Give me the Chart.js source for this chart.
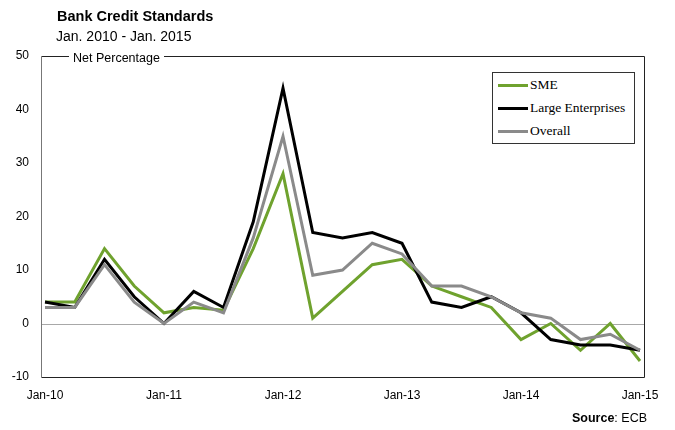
<!DOCTYPE html>
<html lang="en">

<head>
    <meta charset="UTF-8">
    <title>Bank Credit Standards</title>
    <script src="https://cdn.jsdelivr.net/npm/chart.js"></script>
    <style>
        body { margin: 0; background: #fff; }
        #wrap { position: relative; width: 675px; height: 430px; font-family: "Liberation Sans", Arial, sans-serif; }
        #titulo { position: absolute; left: 57px; top: 8px; font-size: 14.5px; font-weight: bold; color: #000; }
        #subtitulo { position: absolute; left: 56px; top: 28px; font-size: 14px; color: #000; }
        #unidad { position: absolute; left: 69px; top: 51px; font-size: 12.5px; background: #fff; padding: 0 4px; }
        #fuente { position: absolute; right: 28px; top: 411px; font-size: 12.5px; }
        #leyenda { position: absolute; left: 492px; top: 72px; width: 141px; height: 70px; border: 1px solid #333;
            font-family: "Liberation Serif", "Times New Roman", serif; font-size: 13.5px; background: #fff; }
        #leyenda div { position: absolute; left: 5px; height: 16px; line-height: 16px; white-space: nowrap; }
        #leyenda span { display: inline-block; width: 30px; height: 3px; vertical-align: middle; margin-right: 2px; }
    </style>
</head>

<body>
    <div id="wrap">
        <canvas id="myChart" width="675" height="430"></canvas>
        <div id="titulo">Bank Credit Standards</div>
        <div id="subtitulo">Jan. 2010 - Jan. 2015</div>
        <div id="unidad">Net Percentage</div>
        <div id="leyenda"></div>
        <div id="fuente"><b>Source</b>: ECB</div>
    </div>

    <script>
        // trimestres Jan-10 ... Jan-15
        const trimestres = ["Jan-10", "Apr-10", "Jul-10", "Oct-10", "Jan-11", "Apr-11", "Jul-11", "Oct-11",
            "Jan-12", "Apr-12", "Jul-12", "Oct-12", "Jan-13", "Apr-13", "Jul-13", "Oct-13",
            "Jan-14", "Apr-14", "Jul-14", "Oct-14", "Jan-15"];

        const sme = [4, 4, 14, 7, 2, 3, 2.5, 14, 28, 1, 6, 11, 12, 7, 5, 3, -3, 0, -5, 0, -7];
        const grandes = [4, 3, 12, 5, 0, 6, 3, 19, 44, 17, 16, 17, 15, 4, 3, 5, 2, -3, -4, -4, -5];
        const total = [3, 3, 11, 4, 0, 4, 2, 16, 35, 9, 10, 15, 13, 7, 7, 5, 2, 1, -3, -2, -5];

        const nombres = ["SME", "Large Enterprises", "Overall"];
        const colores = ["#6fa22e", "#000000", "#8a8a8a"];
        const yTicks = [-10, 0, 10, 20, 30, 40, 50];

        const fuenteEjes = { family: "'Liberation Sans', Arial, sans-serif", size: 12 };

        // marco, linea del cero
        const marco = {
            id: "marco",
            beforeDatasetsDraw(chart) {
                const { ctx, chartArea } = chart;
                const y0 = chart.scales.y.getPixelForValue(0);
                const izq = Math.round(chartArea.left) - 4 + 0.5;
                const der = Math.round(chartArea.right) + 4 + 0.5;
                const arr = Math.round(chartArea.top) + 0.5;
                const abj = Math.round(chartArea.bottom) + 0.5;
                ctx.save();
                ctx.lineWidth = 1;
                ctx.strokeStyle = "#a8a8a8";
                ctx.beginPath();
                ctx.moveTo(izq, Math.round(y0) + 0.5);
                ctx.lineTo(der, Math.round(y0) + 0.5);
                ctx.stroke();
                ctx.strokeStyle = "#222";
                ctx.beginPath();
                ctx.moveTo(izq, arr);
                ctx.lineTo(der, arr);
                ctx.lineTo(der, abj);
                ctx.lineTo(izq, abj);
                ctx.stroke();
                ctx.strokeStyle = "#777";
                ctx.beginPath();
                ctx.moveTo(izq, arr);
                ctx.lineTo(izq, abj);
                ctx.stroke();
                ctx.restore();
            }
        };

        const series = [sme, grandes, total];

        const config = {
            type: "line",
            data: {
                labels: trimestres,
                datasets: series.map((s, i) => ({
                    label: nombres[i],
                    data: s,
                    borderColor: colores[i],
                    borderWidth: 3,
                    pointRadius: 0,
                    tension: 0,
                    fill: false,
                    order: 3 - i
                }))
            },
            options: {
                responsive: false,
                animation: false,
                layout: { padding: { top: 56, right: 35, left: 0, bottom: 0 } },
                plugins: { legend: { display: false }, tooltip: { enabled: false } },
                scales: {
                    x: {
                        offset: false,
                        grid: { display: false, drawTicks: false },
                        border: { display: false },
                        ticks: {
                            autoSkip: false,
                            maxRotation: 0,
                            padding: 11,
                            color: "#000",
                            font: fuenteEjes,
                            callback: function (v) {
                                const t = trimestres[v];
                                return t.startsWith("Jan") ? t : "";
                            }
                        },
                        afterFit: s => { s.height = 53; }
                    },
                    y: {
                        min: -10,
                        max: 50,
                        grid: { display: false, drawTicks: false },
                        border: { display: false },
                        afterBuildTicks: s => { s.ticks = yTicks.map(v => ({ value: v })); },
                        ticks: { padding: 16, color: "#000", font: fuenteEjes },
                        afterFit: s => { s.width = 45; }
                    }
                }
            },
            plugins: [marco]
        };

        const ctx = document.getElementById("myChart").getContext("2d");
        const grafico = new Chart(ctx, config);

        // leyenda
        const ley = document.getElementById("leyenda");
        nombres.forEach((n, i) => {
            const d = document.createElement("div");
            d.style.top = (4 + i * 23) + "px";
            d.innerHTML = `<span style="background:${colores[i]}"></span>${n}`;
            ley.appendChild(d);
        });
    </script>
</body>

</html>
